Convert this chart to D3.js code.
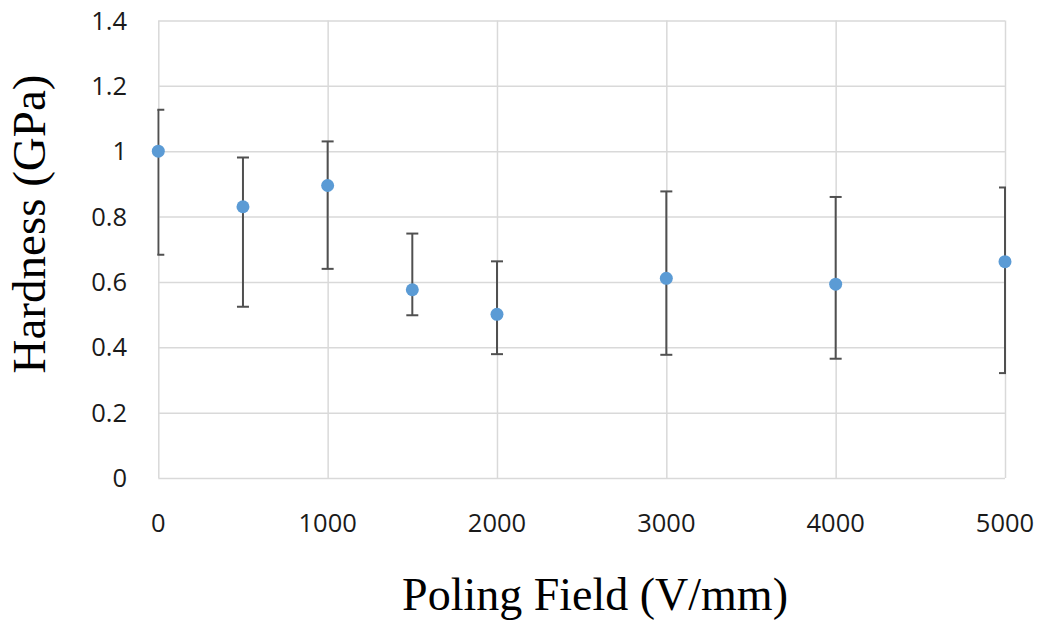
<!DOCTYPE html>
<html>
<head>
<meta charset="utf-8">
<script src="https://cdn.jsdelivr.net/npm/d3@7"></script>
<style>
  body { margin: 0; background: #fff; }
</style>
</head>
<body>
<div id="the_chart"></div>
<script>
// values
var fields   = [0, 500, 1000, 1500, 2000, 3000, 4000, 5000];
var hardness = [1.0, 0.83, 0.895, 0.576, 0.501, 0.611, 0.593, 0.662];
var errTop   = [1.127, 0.981, 1.03, 0.748, 0.663, 0.877, 0.86, 0.889];
var errBot   = [0.683, 0.524, 0.64, 0.498, 0.379, 0.377, 0.365, 0.321];
var xTicks   = [0, 1000, 2000, 3000, 4000, 5000];
var yTicks   = [0, 0.2, 0.4, 0.6, 0.8, 1, 1.2, 1.4];

var dataset = fields.map(function(f, i) {
    return {x: f, y: hardness[i], hi: errTop[i], lo: errBot[i]};
});

gen_scatterplot();

function gen_scatterplot() {
    var w = 1042;
    var h = 641;
    var left = 158.3, right = 1005, top = 20.5, bottom = 478;

    var svg = d3.select("#the_chart")
                .append("svg")
                .attr("width", w)
                .attr("height", h);

    var xscale = d3.scaleLinear().domain([0, 5000]).range([left, right]);
    var hscale = d3.scaleLinear().domain([0, 1.4]).range([bottom, top]);

    // gridlines
    svg.append("g")
       .attr("transform", "translate(" + left + ",0)")
       .call(d3.axisLeft(hscale).tickValues(yTicks).tickSize(-(right - left)).tickFormat(""))
       .call(function(g) { g.select(".domain").remove(); })
       .selectAll("line").attr("stroke", "#d9d9d9").attr("stroke-width", 1.5);

    svg.append("g")
       .attr("transform", "translate(0," + bottom + ")")
       .call(d3.axisBottom(xscale).tickValues(xTicks).tickSize(-(bottom - top)).tickFormat(""))
       .call(function(g) { g.select(".domain").remove(); })
       .selectAll("line").attr("stroke", "#d9d9d9").attr("stroke-width", 1.5);

    // tick labels
    svg.append("g")
       .selectAll("text")
       .data(yTicks)
       .enter().append("text")
       .attr("x", 127)
       .attr("y", function(d) { return hscale(d) + 9; })
       .attr("text-anchor", "end")
       .attr("font-family", "'Open Sans', sans-serif")
       .attr("font-size", 25.5)
       .attr("fill", "#1a1a1a")
       .text(function(d) { return d3.format("")(d); });

    svg.append("g")
       .selectAll("text")
       .data(xTicks)
       .enter().append("text")
       .attr("x", function(d) { return xscale(d); })
       .attr("y", 532)
       .attr("text-anchor", "middle")
       .attr("font-family", "'Open Sans', sans-serif")
       .attr("font-size", 25.5)
       .attr("fill", "#1a1a1a")
       .text(function(d) { return d; });

    // error bars (caps clipped by plot area)
    svg.append("clipPath").attr("id", "plotclip")
       .append("rect")
       .attr("x", left - 1).attr("y", 0)
       .attr("width", right - left + 2).attr("height", h);

    var eb = svg.append("g").attr("clip-path", "url(#plotclip)")
                .attr("stroke", "#505050").attr("stroke-width", 2);
    var cap = 6;

    eb.selectAll("line.v")
      .data(dataset)
      .enter().append("line")
      .attr("class", "v")
      .attr("x1", function(d) { return xscale(d.x); })
      .attr("x2", function(d) { return xscale(d.x); })
      .attr("y1", function(d) { return hscale(d.hi); })
      .attr("y2", function(d) { return hscale(d.lo); });

    eb.selectAll("line.t")
      .data(dataset)
      .enter().append("line")
      .attr("class", "t")
      .attr("x1", function(d) { return xscale(d.x) - cap; })
      .attr("x2", function(d) { return xscale(d.x) + cap; })
      .attr("y1", function(d) { return hscale(d.hi); })
      .attr("y2", function(d) { return hscale(d.hi); });

    eb.selectAll("line.b")
      .data(dataset)
      .enter().append("line")
      .attr("class", "b")
      .attr("x1", function(d) { return xscale(d.x) - cap; })
      .attr("x2", function(d) { return xscale(d.x) + cap; })
      .attr("y1", function(d) { return hscale(d.lo); })
      .attr("y2", function(d) { return hscale(d.lo); });

    // points
    svg.selectAll("circle")
       .data(dataset)
       .enter().append("circle")
       .attr("r", 6.5)
       .attr("fill", "#5b9bd5")
       .attr("cx", function(d) { return xscale(d.x); })
       .attr("cy", function(d) { return hscale(d.y); });

    // axis titles
    svg.append("text")
       .attr("transform", "translate(45,224) rotate(-90)")
       .attr("text-anchor", "middle")
       .attr("font-family", "'Liberation Serif', 'Times New Roman', serif")
       .attr("font-size", 47)
       .attr("fill", "#000")
       .text("Hardness (GPa)");

    svg.append("text")
       .attr("x", 595)
       .attr("y", 610)
       .attr("text-anchor", "middle")
       .attr("font-family", "'Liberation Serif', 'Times New Roman', serif")
       .attr("font-size", 46)
       .attr("fill", "#000")
       .text("Poling Field (V/mm)");
}
</script>
</body>
</html>
